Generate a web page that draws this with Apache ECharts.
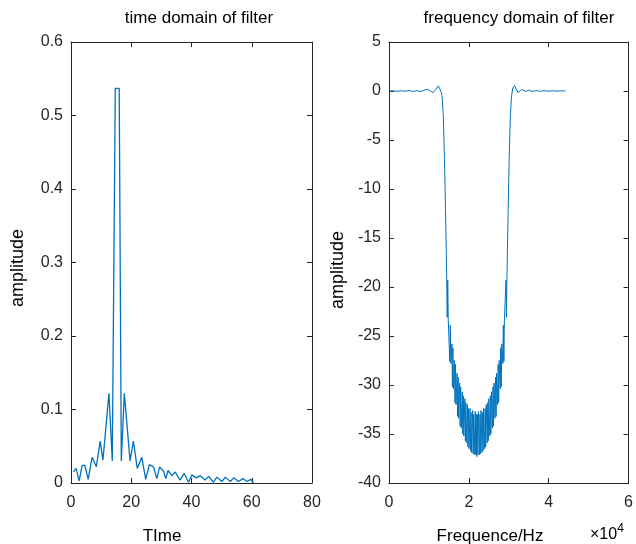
<!DOCTYPE html>
<html>
<head>
<meta charset="utf-8">
<script src="https://cdn.jsdelivr.net/npm/echarts@6/dist/echarts.min.js"></script>
<style>html,body{margin:0;padding:0;background:#fff}#c{width:636px;height:544px}</style>
</head>
<body>
<div id="c"></div>
<script>
// ---- Data ----
var timeX = [0.8, 1.7, 2.7, 3.7, 4.6, 5.7, 7.0, 8.4, 9.7, 10.6, 12.6, 13.7, 14.7, 16.0, 16.7, 17.7, 19.6, 20.7, 22.0, 23.5, 24.8, 26.0, 27.4, 28.5, 29.4, 30.7, 31.5, 32.2, 33.5, 34.6, 36.2, 37.6, 39.0, 40.1, 41.6, 42.9, 44.5, 45.7, 47.3, 48.4, 50.1, 51.2, 52.9, 54.0, 55.6, 57.1, 58.4, 59.7, 60.6];
var timeY = [0.015, 0.020, 0.003, 0.024, 0.024, 0.005, 0.035, 0.022, 0.057, 0.031, 0.122, 0.030, 0.537, 0.537, 0.030, 0.122, 0.030, 0.057, 0.020, 0.035, 0.005, 0.025, 0.022, 0.006, 0.022, 0.016, 0.006, 0.017, 0.010, 0.015, 0.004, 0.013, 0.001, 0.011, 0.007, 0.010, 0.004, 0.009, 0.001, 0.008, 0.002, 0.008, 0.002, 0.007, 0.002, 0.006, 0.002, 0.005, 0.000];

// passband (left), transition down
var freqPassLX = [0, 1000, 2000, 3000, 4000, 5000, 6000, 7000, 8000, 9000, 9600, 10200, 11000, 11700, 12350, 12900, 13300, 13600, 13900, 14150, 14350];
var freqPassLY = [0.00, 0.02, -0.03, 0.03, -0.02, 0.04, -0.04, 0.03, -0.05, 0.12, 0.18, 0.05, -0.17, 0.15, 0.52, 0.10, -0.50, -2.5, -7.0, -12.0, -16.5];
// stopband ripple
var freqStopX = [
  14450, 14580, 14710, 14840, 15100, 15230, 15360, 15490, 15750, 15880, 16010, 16140,
  16400, 16530, 16660, 16790, 17050, 17180, 17310, 17440, 17700, 17830, 17960, 18090,
  18350, 18480, 18610, 18740, 19000, 19130, 19260, 19390, 19650, 19780, 19910, 20040,
  20300, 20430, 20560, 20690, 20950, 21080, 21210, 21340, 21600, 21730, 21860, 21990,
  22140, 22270, 22400, 22660, 22790, 22920, 23050, 23310, 23440, 23570, 23700,
  23960, 24090, 24220, 24350, 24610, 24740, 24870, 25000, 25260, 25390, 25520, 25650,
  25910, 26040, 26170, 26300, 26560, 26690, 26820, 26950, 27210, 27340, 27470, 27600,
  27860, 27990, 28120, 28250, 28510, 28640, 28770, 28900, 29160, 29290, 29420, 29550];
var freqStopY = [
  -18.9, -23.1, -19.3, -23.3, -23.5, -27.6, -23.9, -27.8, -25.8, -30.2, -26.2, -30.4,
  -27.5, -31.8, -27.9, -32.0, -28.8, -33.2, -29.2, -33.4, -29.8, -34.2, -30.2, -34.4,
  -30.7, -35.0, -31.1, -35.2, -31.4, -35.7, -31.8, -35.9, -32.0, -36.3, -32.4, -36.5,
  -32.4, -36.7, -32.8, -36.9, -32.6, -37.0, -33.0, -37.1, -32.7, -37.1, -33.0, -37.3,
  -33.0, -37.1, -32.7, -37.1, -33.0, -37.0, -32.6, -36.9, -32.8, -36.7, -32.4,
  -36.5, -32.4, -36.3, -32.0, -35.9, -31.8, -35.7, -31.4, -35.2, -31.1, -35.0, -30.7,
  -34.4, -30.2, -34.2, -29.8, -33.4, -29.2, -33.2, -28.8, -32.0, -27.9, -31.8, -27.5,
  -30.4, -26.2, -30.2, -25.8, -27.8, -23.9, -27.6, -23.5, -23.3, -19.3, -23.1, -18.9];
// transition up, passband (right)
var freqPassRX = [29650, 29850, 30100, 30400, 30700, 31000, 31450, 32300, 33300, 34200, 35000, 36000, 37000, 38000, 39000, 40000, 41000, 42000, 43000, 44200];
var freqPassRY = [-16.5, -12.0, -7.0, -2.5, -0.50, 0.30, 0.55, -0.17, 0.17, -0.05, 0.08, -0.04, 0.05, -0.03, 0.04, -0.03, 0.03, -0.02, 0.02, 0.00];

var timeTicks = {min: 0, max: 80, interval: 20};
var ampTicks = {min: 0, max: 0.6, interval: 0.1};
var freqTicks = {min: 0, max: 60000, interval: 20000};
var dbTicks = {min: -40, max: 5, interval: 5};

function zip(a, b) { var r = []; for (var i = 0; i < a.length; i++) r.push([a[i], b[i]]); return r; }
var freqData = zip(freqPassLX, freqPassLY).concat(zip(freqStopX, freqStopY), zip(freqPassRX, freqPassRY));

var FONT = 'Liberation Sans, Arial, sans-serif';
var AX = '#262626';
function axis(gridIndex, t, pos, labels, fmt) {
  return {
    type: 'value', gridIndex: gridIndex, position: pos,
    min: t.min, max: t.max, interval: t.interval,
    axisLine: {show: true, onZero: false, lineStyle: {color: AX, width: 1}},
    axisTick: {show: true, inside: true, length: 5, lineStyle: {color: AX}},
    splitLine: {show: false},
    axisLabel: {show: labels, color: AX, fontFamily: FONT, fontSize: 16,
      margin: (pos === 'bottom' ? 12 : 8), formatter: fmt}
  };
}

var chart = echarts.init(document.getElementById('c'), null, {renderer: 'canvas'});
chart.setOption({
  animation: false,
  grid: [
    {left: 71, top: 42, width: 241, height: 441},
    {left: 389, top: 42, width: 243, height: 441}
  ],
  xAxis: [
    axis(0, timeTicks, 'bottom', true, function (v) { return String(v); }),
    axis(0, timeTicks, 'top', false),
    axis(1, freqTicks, 'bottom', true, function (v) { return String(Math.round(v / 10000)); }),
    axis(1, freqTicks, 'top', false)
  ],
  yAxis: [
    axis(0, ampTicks, 'left', true, function (v) { return String(Math.round(v * 10) / 10); }),
    axis(0, ampTicks, 'right', false),
    axis(1, dbTicks, 'left', true, function (v) { return String(v); }),
    axis(1, dbTicks, 'right', false)
  ],
  series: [
    {type: 'line', xAxisIndex: 0, yAxisIndex: 0, data: zip(timeX, timeY), showSymbol: false,
      lineStyle: {color: '#0072BD', width: 1.3}, itemStyle: {color: '#0072BD'}},
    {type: 'line', xAxisIndex: 2, yAxisIndex: 2, data: freqData, showSymbol: false,
      lineStyle: {color: '#0072BD', width: 1}, itemStyle: {color: '#0072BD'}}
  ],
  graphic: [
    {type: 'text', x: 199, y: 18, style: {text: 'time domain of filter', fill: '#000', font: '17px ' + FONT, textAlign: 'center', textVerticalAlign: 'middle'}},
    {type: 'text', x: 519, y: 18, style: {text: 'frequency domain of filter', fill: '#000', font: '17px ' + FONT, textAlign: 'center', textVerticalAlign: 'middle'}},
    {type: 'text', x: 18, y: 268, rotation: Math.PI / 2, style: {text: 'amplitude', fill: '#000', font: '18px ' + FONT, textAlign: 'center', textVerticalAlign: 'middle'}},
    {type: 'text', x: 338, y: 270, rotation: Math.PI / 2, style: {text: 'amplitude', fill: '#000', font: '18px ' + FONT, textAlign: 'center', textVerticalAlign: 'middle'}},
    {type: 'text', x: 162, y: 536, style: {text: 'TIme', fill: '#000', font: '17px ' + FONT, textAlign: 'center', textVerticalAlign: 'middle'}},
    {type: 'text', x: 490, y: 536, style: {text: 'Frequence/Hz', fill: '#000', font: '17px ' + FONT, textAlign: 'center', textVerticalAlign: 'middle'}},
    {type: 'text', x: 590, y: 523, style: {text: '{a|×10}{b|4}', rich: {a: {fontSize: 16, fontFamily: FONT, color: AX, verticalAlign: 'bottom'}, b: {fontSize: 12, fontFamily: FONT, color: AX, padding: [0, 0, 8, 0], verticalAlign: 'top'}}}}
  ]
});
</script>
</body>
</html>
